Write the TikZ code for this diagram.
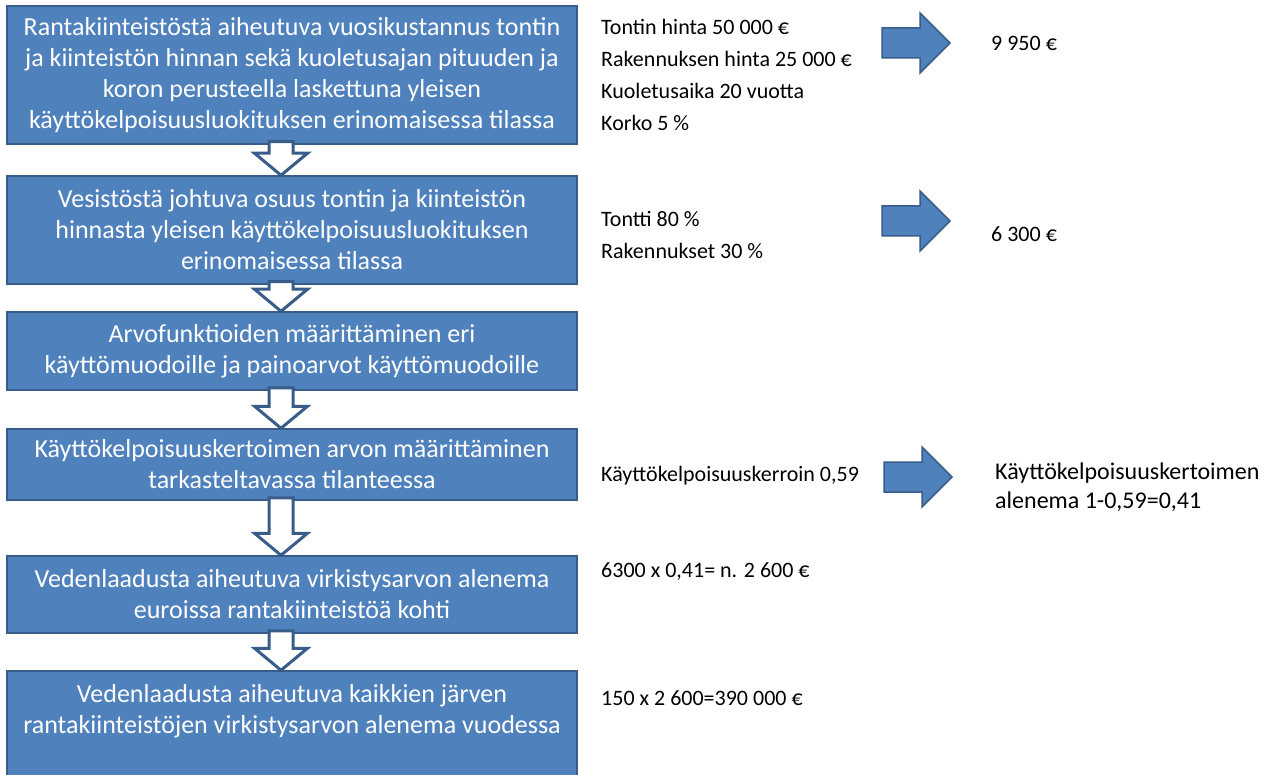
\documentclass[tikz,border=0pt]{standalone}
\usepackage{fontspec}
\setmainfont{Carlito}
\usetikzlibrary{calc}
\definecolor{boxblue}{RGB}{79,129,189}
\definecolor{boxline}{RGB}{56,93,138}
\tikzset{
box/.style = {rectangle, draw=boxline, fill=boxblue, line width=1.5pt,
              text=white, align=center, minimum width=570pt,
              inner sep=0pt, font=\fontsize{26}{31}\selectfont},
info/.style = {anchor=north west, inner sep=0pt, align=left,
               font=\fontsize{22}{32}\selectfont},
downarr/.style = {draw=boxline, fill=white, line width=3pt},
rightarr/.style = {draw=boxline, fill=boxblue, line width=1.5pt}
}
% hollow block arrow from the bottom of one box to the top of the next
\newcommand{\flowdown}[2]{%
  \coordinate (#1top) at ($(ax |- #1.south)+(0,-3)$);
  \coordinate (#1tip) at (ax |- #2.north);
  \draw[downarr] ($(#1top)+(-12,0)$) -- ($(#1tip)+(-12,-22)$) -- ++(-14.5,0)
    -- (#1tip) -- ++(26.5,-22) -- ++(-14.5,0) -- ($(#1top)+(12,0)$) -- cycle;}
% filled block arrow pointing right, #2 = left end of the shaft
\newcommand{\flowright}[2]{%
  \coordinate (#1) at (#2);
  \draw[rightarr] ($(#1)+(0,-15)$) -- ++(38,0) -- ++(0,-15) -- ++(30,30)
    -- ++(-30,30) -- ++(0,-15) -- ++(-38,0) -- cycle;}

\begin{document}
\begin{tikzpicture}[x=1pt,y=-1pt]
\useasboundingbox (0,0) rectangle (1266,775);
\coordinate (ax) at (281,0);

\node[box, minimum height=138pt] (b1) at (292,75) {Rantakiinteistöstä aiheutuva vuosikustannus tontin\\ja kiinteistön hinnan sekä kuoletusajan pituuden ja\\koron perusteella laskettuna yleisen\\käyttökelpoisuusluokituksen erinomaisessa tilassa};
\node[box, minimum height=108pt] (b2) at (292,230) {Vesistöstä johtuva osuus tontin ja kiinteistön\\hinnasta yleisen käyttökelpoisuusluokituksen\\erinomaisessa tilassa};
\node[box, minimum height=78pt] (b3) at (292,351) {Arvofunktioiden määrittäminen eri\\käyttömuodoille ja painoarvot käyttömuodoille};
\node[box, minimum height=71pt] (b4) at (292,464.5) {Käyttökelpoisuuskertoimen arvon määrittäminen\\tarkasteltavassa tilanteessa};
\node[box, minimum height=77pt] (b5) at (292,594.5) {Vedenlaadusta aiheutuva virkistysarvon alenema\\euroissa rantakiinteistöä kohti};
\node[box, minimum height=107pt] (b6) at (292,724.5) {Vedenlaadusta aiheutuva kaikkien järven\\rantakiinteistöjen virkistysarvon alenema vuodessa\\\mbox{}};

\flowdown{b1}{b2}
\flowdown{b2}{b3}
\flowdown{b3}{b4}
\flowdown{b4}{b5}
\flowdown{b5}{b6}

% figures used at each step
\node[info] (i1) at (601,19.5) {Tontin hinta 50 000 €\\Rakennuksen hinta 25 000 €\\Kuoletusaika 20 vuotta\\Korko 5 \%};
\node[info] (i2) at (601,211.5) {Tontti 80 \%\\Rakennukset 30 \%};
\node[info, anchor=mid west] (i4) at (601,479) {Käyttökelpoisuuskerroin 0,59};
\node[info, anchor=mid west] (i5) at (601,575) {6300 x 0,41= n. 2 600 €};
\node[info, anchor=mid west] (i6) at (601,703) {150 x 2 600=390 000 €};

\node[info, anchor=mid west] (r1) at (991,48) {9 950 €};
\node[info, anchor=mid west] (r2) at (991,239) {6 300 €};
\node[info, font=\fontsize{24}{29}\selectfont] (r4) at (995,462.5) {Käyttökelpoisuuskertoimen\\alenema 1-0,59=0,41};

\flowright{a1}{882,43}
\flowright{a2}{882,221}
\flowright{a4}{884,477}
\end{tikzpicture}
\end{document}
